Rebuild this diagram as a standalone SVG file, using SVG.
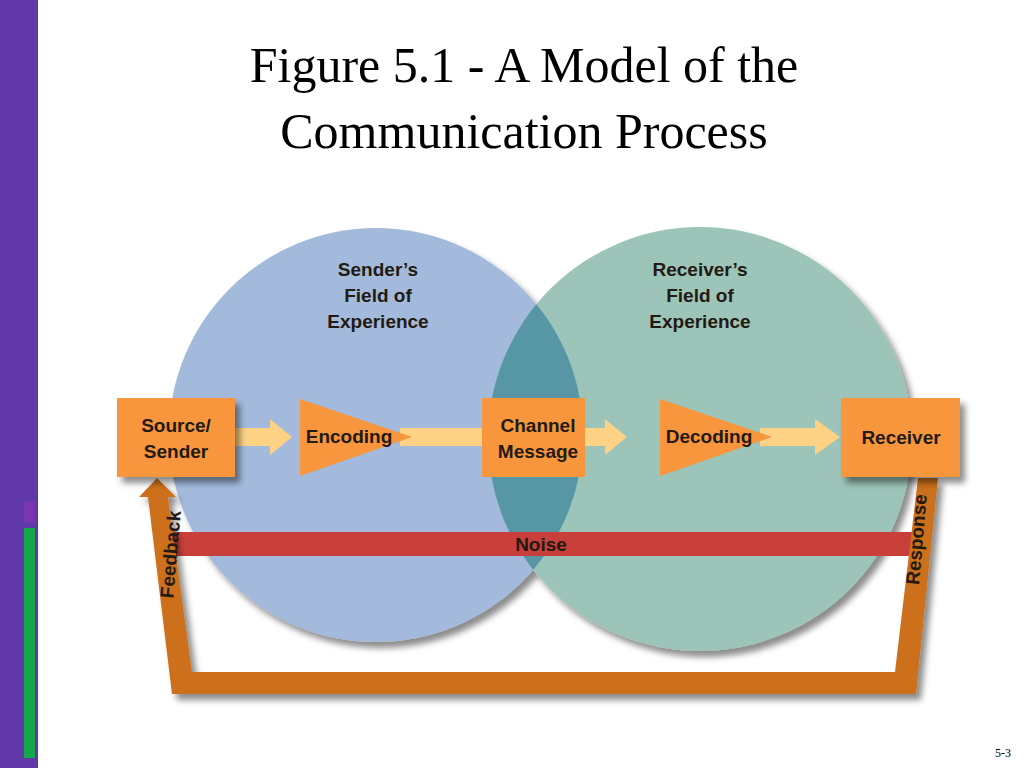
<svg xmlns="http://www.w3.org/2000/svg" width="1024" height="768" viewBox="0 0 1024 768">
<style>
.t{font-family:"Liberation Serif",serif;font-size:50px;fill:#000;text-anchor:middle}
.l{font-family:"Liberation Sans",Arial,sans-serif;font-weight:bold;font-size:19px;fill:#231a12;text-anchor:middle}
.box{fill:#f7963d}
.ar{fill:#fdd285}
</style>
<defs>
<filter id="sh" x="-10%" y="-10%" width="130%" height="130%"><feDropShadow dx="5" dy="6" stdDeviation="3" flood-color="#000" flood-opacity="0.45"/></filter>
<clipPath id="lc"><circle cx="376" cy="435" r="207"/></clipPath>
</defs>
<rect width="1024" height="768" fill="#fff"/>
<rect x="0" y="0" width="38" height="768" fill="#6038a8"/>
<rect x="24" y="502" width="11" height="20" fill="#7a35b0"/>
<rect x="24" y="528" width="11" height="230" fill="#13a84a"/>
<text class="t" x="524" y="82">Figure 5.1 - A Model of the</text>
<text class="t" x="524" y="148">Communication Process</text>
<g id="circles" filter="url(#sh)">
<circle cx="376" cy="435" r="207" fill="#a4badc"/>
<circle cx="700" cy="439" r="212" fill="#9cc4b9"/>
</g>
<circle cx="700" cy="439" r="212" fill="#5796a5" clip-path="url(#lc)"/>
<g class="l">
<text x="378" y="276">Sender’s</text><text x="378" y="302">Field of</text><text x="378" y="328">Experience</text>
<text x="700" y="276">Receiver’s</text><text x="700" y="302">Field of</text><text x="700" y="328">Experience</text>
</g>
<g id="noise"><rect x="165" y="532" width="748" height="24" fill="#c9403a"/><text class="l" x="541" y="551">Noise</text></g>
<g id="connectors">
<polygon class="ar" points="235,428 270,428 270,419 292,437 270,455 270,446 235,446"/>
<polygon class="ar" points="400,428 482,428 482,446 400,446"/>
<polygon class="ar" points="585,428 605,428 605,419 627,437 605,455 605,446 585,446"/>
<polygon class="ar" points="760,428 815,428 815,419 840,437 815,455 815,446 760,446"/>
<g filter="url(#sh)">
<polygon fill="#cc6f1e" points="157,478 176,497 168,497 192,672 895,672 918,478 938,478 916,694 172,694 148,497 139,497"/>
</g>
<text class="l" transform="translate(177,555) rotate(-85)" x="0" y="0">Feedback</text>
<text class="l" transform="translate(923,540) rotate(-85)" x="0" y="0">Response</text>
</g>
<g id="source" filter="url(#sh)"><rect class="box" x="117" y="398" width="118" height="79"/></g>
<text class="l" x="176" y="432">Source/</text><text class="l" x="176" y="458">Sender</text>
<g id="encoding"><polygon class="box" points="300,399 300,476 412,437"/><text class="l" x="349" y="443">Encoding</text></g>
<g id="channel"><rect class="box" x="482" y="398" width="103" height="79"/><text class="l" x="538" y="432">Channel</text><text class="l" x="538" y="458">Message</text></g>
<g id="decoding"><polygon class="box" points="660,399 660,476 772,437"/><text class="l" x="709" y="443">Decoding</text></g>
<g id="receiver" filter="url(#sh)"><rect class="box" x="841" y="398" width="119" height="79"/></g>
<text class="l" x="901" y="444">Receiver</text>
<text x="1003" y="757" font-family="Liberation Serif,serif" font-size="12" text-anchor="middle">5-3</text>
</svg>
